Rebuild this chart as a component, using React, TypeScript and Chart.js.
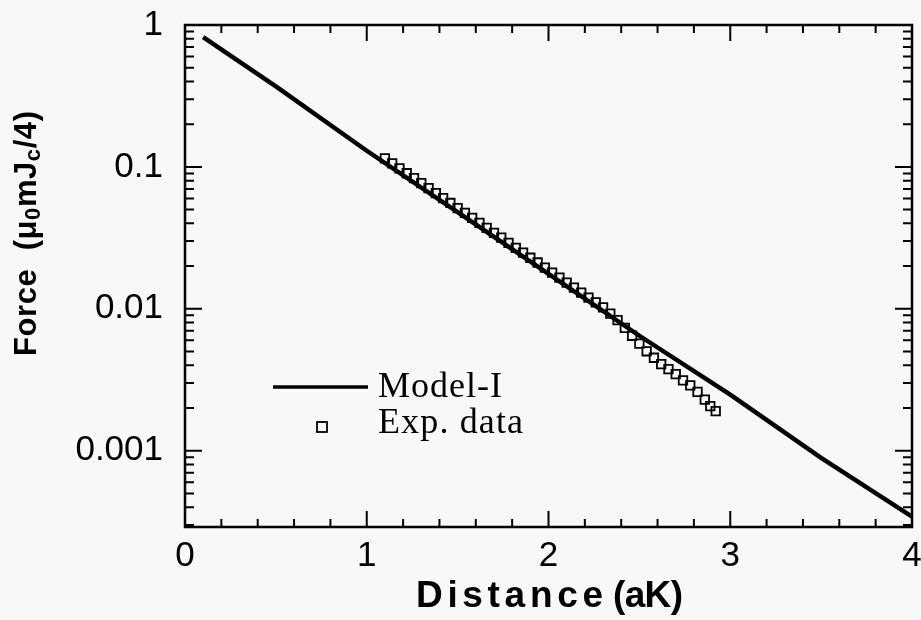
import React, { useEffect, useRef } from 'react';
import { Chart, registerables } from 'chart.js';

Chart.register(...registerables);

// ---- data ----
const modelX = [0.1, 0.5, 1.0, 1.5, 2.0, 2.5, 3.0, 3.5, 4.0];
const modelForce = [0.822, 0.369, 0.130, 0.048, 0.0176, 0.00646, 0.00248, 0.00089, 0.000343];

const expX = [
  1.10, 1.14, 1.18, 1.22, 1.26, 1.30, 1.34, 1.38, 1.42, 1.46, 1.50, 1.54, 1.58, 1.62, 1.66, 1.70,
  1.74, 1.78, 1.82, 1.86, 1.90, 1.94, 1.98, 2.02, 2.06, 2.10, 2.14, 2.18, 2.22, 2.26, 2.30, 2.34,
  2.38, 2.42, 2.46, 2.50, 2.54, 2.58, 2.62, 2.66, 2.70, 2.74, 2.78, 2.82, 2.86, 2.89, 2.92,
];
const expForce = [
  0.1148, 0.1060, 0.0978, 0.0902, 0.0833, 0.0768, 0.0709, 0.0654, 0.0603, 0.0557, 0.0513, 0.0474,
  0.0437, 0.0403, 0.0372, 0.0343, 0.0317, 0.0292, 0.0269, 0.0249, 0.0229, 0.0212, 0.0195, 0.0180,
  0.0166, 0.0153, 0.0141, 0.0130, 0.0120, 0.0111, 0.01024, 0.00924, 0.00833, 0.00734, 0.00646,
  0.00569, 0.00502, 0.00452, 0.00408, 0.00376, 0.00347, 0.00313, 0.00289, 0.00260, 0.00229,
  0.00206, 0.00190,
];

const xTickValues = [0, 1, 2, 3, 4];
const xTickLabels = ['0', '1', '2', '3', '4'];
const yTickValues = [0.001, 0.01, 0.1, 1];
const yTickLabels = ['0.001', '0.01', '0.1', '1'];

const seriesNames = ['Model-I', 'Exp. data'];
const xTitle = ['Distance', '(aK)'];

const SANS = '"Liberation Sans", Arial, sans-serif';
const SERIF = '"Liberation Serif", "Times New Roman", serif';

function fitText(ctx: CanvasRenderingContext2D, text: string, x: number, y: number, width: number) {
  (ctx as any).letterSpacing = '0px';
  const w = ctx.measureText(text).width;
  const n = text.length;
  const ls = n > 1 ? (width - w) / (n - 1) : 0;
  (ctx as any).letterSpacing = ls + 'px';
  ctx.fillText(text, x, y);
  (ctx as any).letterSpacing = '0px';
}

const decorPlugin = {
  id: 'decor',
  beforeDraw(chart: any) {
    const ctx = chart.ctx as CanvasRenderingContext2D;
    ctx.save();
    ctx.fillStyle = '#f8f8f8';
    ctx.fillRect(0, 0, chart.width, chart.height);
    ctx.restore();
  },
  afterDraw(chart: any) {
    const ctx = chart.ctx as CanvasRenderingContext2D;
    const { left, right, top, bottom } = chart.chartArea;
    const xs = chart.scales.x;
    const ys = chart.scales.y;
    ctx.save();
    ctx.strokeStyle = '#000';
    ctx.fillStyle = '#000';
    // frame
    ctx.lineWidth = 2.5;
    ctx.strokeRect(left, top, right - left, bottom - top);

    // x ticks (inward, bottom and top)
    ctx.lineWidth = 2;
    for (let i = 0; i <= 20; i++) {
      const v = i * 0.2;
      const px = xs.getPixelForValue(v);
      if (px <= left + 1 || px >= right - 1) continue;
      const major = i % 5 === 0;
      const len = major ? 16 : 8;
      ctx.beginPath();
      ctx.moveTo(px, bottom);
      ctx.lineTo(px, bottom - len);
      ctx.moveTo(px, top);
      ctx.lineTo(px, top + len);
      ctx.stroke();
    }
    // y ticks (inward, left and right)
    for (let d = -4; d <= 0; d++) {
      for (let m = 1; m <= 9; m++) {
        const v = m * Math.pow(10, d);
        if (v < ys.min || v > ys.max) continue;
        const py = ys.getPixelForValue(v);
        if (py <= top + 1 || py >= bottom - 1) continue;
        const len = m === 1 ? 17 : 9;
        ctx.beginPath();
        ctx.moveTo(left, py);
        ctx.lineTo(left + len, py);
        ctx.moveTo(right, py);
        ctx.lineTo(right - len, py);
        ctx.stroke();
      }
    }

    // x title
    ctx.font = 'bold 37px ' + SANS;
    ctx.textAlign = 'left';
    ctx.textBaseline = 'alphabetic';
    fitText(ctx, xTitle[0], 416, 607, 187);
    fitText(ctx, xTitle[1], 613, 607, 70);

    // y title (rotated) with subscripts
    const segs = [
      { t: 'Force  (μ', sub: false },
      { t: '0', sub: true },
      { t: 'mJ', sub: false },
      { t: 'c', sub: true },
      { t: '/4)', sub: false },
    ];
    const mainFont = 'bold 31px ' + SANS;
    const subFont = 'bold 22px ' + SANS;
    let natural = 0;
    let chars = 0;
    for (const s of segs) {
      ctx.font = s.sub ? subFont : mainFont;
      natural += ctx.measureText(s.t).width;
      chars += s.t.length;
    }
    const target = 245;
    const ls = (target - natural) / (chars - 1);
    ctx.translate(36, 356);
    ctx.rotate(-Math.PI / 2);
    let pos = 0;
    (ctx as any).letterSpacing = ls + 'px';
    for (const s of segs) {
      ctx.font = s.sub ? subFont : mainFont;
      ctx.fillText(s.t, pos, s.sub ? 4 : 0);
      pos += ctx.measureText(s.t).width;
    }
    (ctx as any).letterSpacing = '0px';
    ctx.setTransform(1, 0, 0, 1, 0, 0);

    // legend
    ctx.lineWidth = 3.5;
    ctx.beginPath();
    ctx.moveTo(273, 387);
    ctx.lineTo(368, 387);
    ctx.stroke();
    ctx.lineWidth = 1.8;
    ctx.strokeRect(317, 422, 10, 10);
    ctx.font = '36px ' + SERIF;
    ctx.textAlign = 'left';
    fitText(ctx, seriesNames[0], 378, 397, 124);
    fitText(ctx, seriesNames[1], 378, 433, 145);
    ctx.restore();
  },
};

export default function App() {
  const ref = useRef<HTMLCanvasElement | null>(null);
  useEffect(() => {
    const canvas = ref.current;
    if (!canvas) return;
    const chart = new Chart(canvas, {
      type: 'scatter',
      data: {
        datasets: [
          {
            label: seriesNames[0],
            data: modelX.map((x, i) => ({ x, y: modelForce[i] })),
            showLine: true,
            borderColor: '#000',
            backgroundColor: '#000',
            borderWidth: 4.5,
            pointRadius: 0,
            tension: 0,
            order: 0,
          },
          {
            label: seriesNames[1],
            data: expX.map((x, i) => ({ x, y: expForce[i] })),
            showLine: false,
            pointStyle: 'rect',
            pointRadius: 6,
            borderColor: '#000',
            borderWidth: 1.8,
            backgroundColor: 'rgba(0,0,0,0)',
            order: 1,
          },
        ],
      } as any,
      options: {
        animation: false,
        responsive: false,
        maintainAspectRatio: false,
        devicePixelRatio: 1,
        layout: { padding: { top: 25, right: 9, left: 0, bottom: 0 } },
        plugins: { legend: { display: false }, tooltip: { enabled: false } },
        scales: {
          x: {
            type: 'linear',
            min: 0,
            max: 4,
            afterFit: (s: any) => {
              s.height = 93;
              s.paddingLeft = 0;
              s.paddingRight = 0;
              s.paddingTop = 0;
              s.paddingBottom = 0;
            },
            afterBuildTicks: (s: any) => { s.ticks = xTickValues.map((v) => ({ value: v })); },
            ticks: {
              padding: 8,
              color: '#000',
              maxRotation: 0,
              autoSkip: false,
              font: { family: SANS, size: 35 },
              callback: (v: any) => {
                const i = xTickValues.indexOf(Number(v));
                return i >= 0 ? xTickLabels[i] : '';
              },
            },
            grid: { display: false, drawTicks: false },
            border: { display: false },
          },
          y: {
            type: 'logarithmic',
            min: 0.00029,
            max: 1,
            afterFit: (s: any) => {
              s.width = 185;
              s.paddingLeft = 0;
              s.paddingRight = 0;
              s.paddingTop = 0;
              s.paddingBottom = 0;
            },
            afterBuildTicks: (s: any) => { s.ticks = yTickValues.map((v) => ({ value: v })); },
            ticks: {
              padding: 22,
              color: '#000',
              autoSkip: false,
              font: { family: SANS, size: 35 },
              callback: (v: any) => {
                const i = yTickValues.indexOf(Number(v));
                return i >= 0 ? yTickLabels[i] : '';
              },
            },
            grid: { display: false, drawTicks: false },
            border: { display: false },
          },
        },
      } as any,
      plugins: [decorPlugin],
    });
    return () => chart.destroy();
  }, []);
  return (
    <div style={{ position: 'fixed', left: 0, top: 0, width: 921, height: 620, background: '#f8f8f8' }}>
      <canvas ref={ref} width={921} height={620} style={{ width: 921, height: 620, display: 'block' }} />
    </div>
  );
}
